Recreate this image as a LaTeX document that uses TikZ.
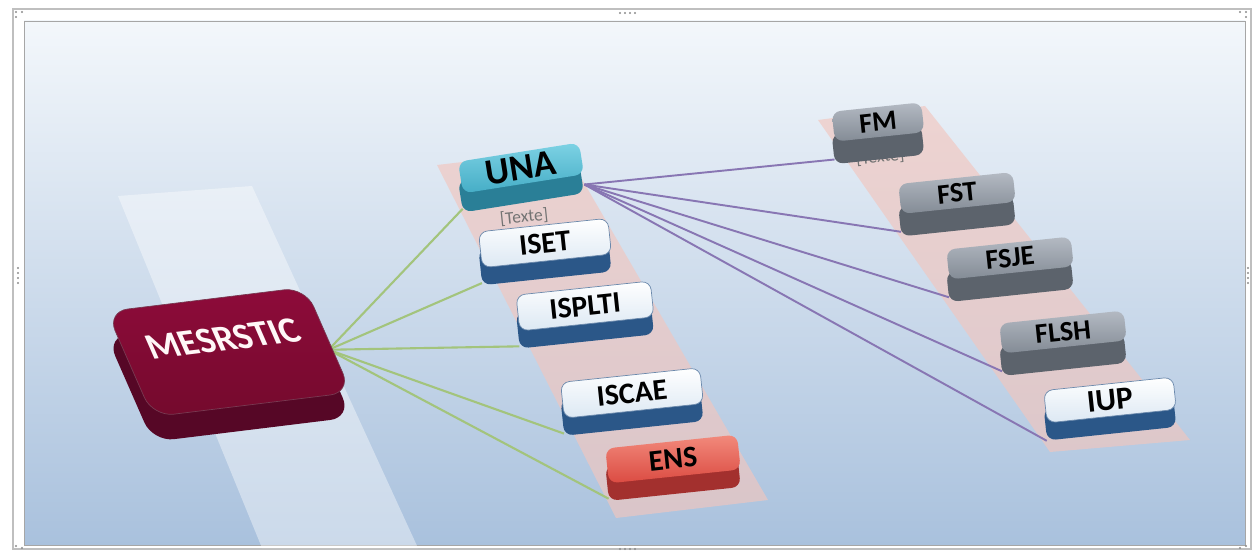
\documentclass[tikz,border=0pt]{standalone}
\usepackage{fontspec}
\newfontfamily\keyfont{Carlito}
\usetikzlibrary{shadows,positioning}
\definecolor{bgtop}{HTML}{F3F7FB}
\definecolor{bgbot}{HTML}{A9C1DD}
\definecolor{hubtop}{HTML}{8E0B3A}
\definecolor{hubbot}{HTML}{740A2D}
\definecolor{hubside}{HTML}{560726}
\definecolor{unatop}{HTML}{7DD2E4}
\definecolor{unabot}{HTML}{45ADC6}
\definecolor{unaside}{HTML}{2A7F97}
\definecolor{whitebot}{HTML}{DCE8F3}
\definecolor{blueside}{HTML}{2B5788}
\definecolor{redtop}{HTML}{F28A7C}
\definecolor{redbot}{HTML}{DB4B42}
\definecolor{redside}{HTML}{A3302E}
\definecolor{graytop}{HTML}{B4BAC3}
\definecolor{graybot}{HTML}{838B95}
\definecolor{grayside}{HTML}{5C636C}
\definecolor{bandpink}{HTML}{F2C6BE}
\definecolor{linkgreen}{HTML}{A3C47C}
\definecolor{linkpurple}{HTML}{8876B3}
\pgfdeclarelayer{back}
\pgfdeclarelayer{links}
\pgfsetlayers{back,links,main}
\tikzset{
        keynode/.style={align=center, inner sep=0pt, rounded corners=5pt, text=black, rotate=6},
        % Hub node
        node_hub/.style={keynode, minimum width=4.0cm, minimum height=2.2cm, text depth=0.55cm, top color=hubtop, bottom color=hubbot, draw=hubside!80,
            text=white!88!pink, font=\keyfont\bfseries\fontsize{21}{21}\selectfont, rotate=1, xslant=-0.3, rounded corners=12pt,
            general shadow={fill=hubside, shadow yshift=-0.5cm}},
        % UNA node
        node_una/.style={keynode, minimum width=2.45cm, minimum height=0.64cm, top color=unatop, bottom color=unabot,
            font=\keyfont\bfseries\fontsize{21}{21}\selectfont, rotate=3, general shadow={fill=unaside, shadow yshift=-0.38cm}},
        % White institute nodes
        node_white/.style={keynode, minimum height=0.72cm, top color=white, bottom color=whitebot, draw=blueside!70,
            font=\keyfont\bfseries\fontsize{17}{17}\selectfont, general shadow={fill=blueside, shadow yshift=-0.35cm}},
        % ENS node
        node_red/.style={keynode, minimum height=0.7cm, top color=redtop, bottom color=redbot,
            font=\keyfont\bfseries\fontsize{17}{17}\selectfont, general shadow={fill=redside, shadow yshift=-0.35cm}},
        % Faculty nodes
        node_gray/.style={keynode, minimum height=0.6cm, top color=graytop, bottom color=graybot,
            font=\keyfont\bfseries\fontsize{16}{16}\selectfont, general shadow={fill=grayside, shadow yshift=-0.45cm}},
        % Placeholder text
        node_ph/.style={keynode, text=black!55, font=\keyfont\fontsize{10}{10}\selectfont},
        band/.style={fill=bandpink, opacity=0.65},
        link_green/.style={draw=linkgreen, line width=1.2pt},
        link_purple/.style={draw=linkpurple, line width=1.1pt}
}
\begin{document}
\begin{tikzpicture}[x=0.02cm, y=-0.02cm]
    \useasboundingbox (0,0) rectangle (1257,553);
    \begin{pgfonlayer}{back}
        \fill[white] (0,0) rectangle (1257,553);
        \draw[black!25, line width=0.6pt] (13,9) rectangle (1251,549);
        \shade[top color=bgtop, bottom color=bgbot, draw=black!35, line width=0.4pt] (24,21) rectangle (1245,545);
        % bands
        \fill[white, opacity=0.4] (118,196) -- (252,186) -- (418,548) -- (262,548) -- cycle;
        \fill[band] (437,165) -- (565,150) -- (768,500) -- (616,518) -- cycle;
        \fill[band] (818,120) -- (925,106) -- (1190,440) -- (1050,452) -- cycle;
        % handles
        \foreach \x in {620,625,630,635} { \fill[black!45] (\x,13) circle (1.2); \fill[black!45] (\x,549) circle (1.2); }
        \foreach \y in {268,273,278,283} { \fill[black!45] (18,\y) circle (1.2); \fill[black!45] (1248,\y) circle (1.2); }
        \foreach \x/\y in {16/12, 22/12, 16/17, 1240/12, 1246/12, 1246/17, 16/546, 22/548, 1246/546, 1240/548} { \fill[black!45] (\x,\y) circle (1.2); }
    \end{pgfonlayer}

    \node[node_hub] (mes) at (229,352) {MESRSTIC};

    \node[node_una] (una) at (521,168) {UNA};
    \node[node_white, minimum width=2.6cm] (iset) at (545,243) {ISET};
    \node[node_white, minimum width=2.7cm] (isplti) at (585,306) {ISPLTI};
    \node[node_white, minimum width=2.8cm] (iscae) at (632,393) {ISCAE};
    \node[node_red, minimum width=2.65cm] (ens) at (673,459) {ENS};

    \node[node_gray, minimum width=1.8cm] (fm) at (878,122) {FM};
    \node[node_gray, minimum width=2.3cm] (fst) at (957,193) {FST};
    \node[node_gray, minimum width=2.5cm] (fsje) at (1010,258) {FSJE};
    \node[node_gray, minimum width=2.5cm] (flsh) at (1063,332) {FLSH};
    \node[node_white, minimum width=2.6cm, minimum height=0.65cm, font=\keyfont\bfseries\fontsize{18}{18}\selectfont] (iup) at (1110,400) {IUP};

    \begin{pgfonlayer}{links}
        \node[node_ph] (unatext) at (524,217) {[Texte]};
        \node[node_ph] (fmtext) at (880,157) {[Texte]};
        \foreach \t in {una, iset, isplti, iscae, ens}
            \draw[link_green] ([yshift=-0.2cm]mes.east) -- ([yshift=-0.3cm]\t.south west);
        \foreach \t in {fm, fst, fsje, flsh, iup}
            \draw[link_purple] ([yshift=-0.2cm]una.south east) -- ([yshift=-0.35cm]\t.south west);
    \end{pgfonlayer}
\end{tikzpicture}
\end{document}
